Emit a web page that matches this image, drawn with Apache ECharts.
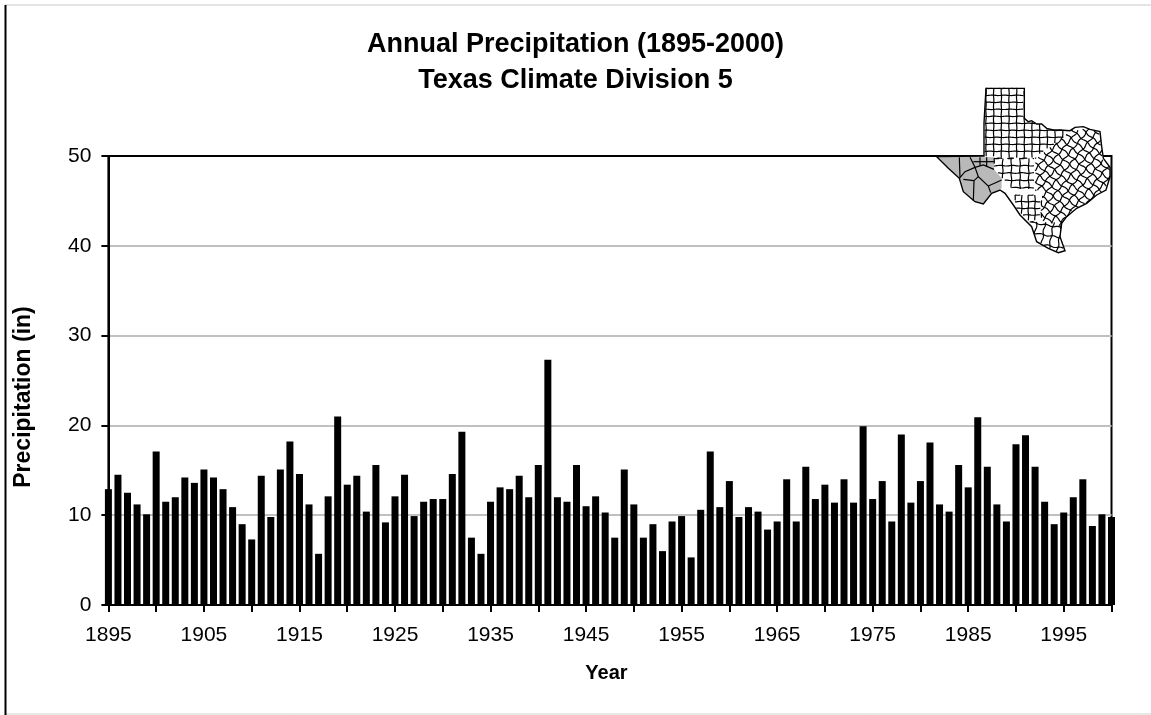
<!DOCTYPE html>
<html>
<head>
<meta charset="utf-8">
<title>Annual Precipitation (1895-2000)</title>
<script src="https://cdn.jsdelivr.net/npm/echarts@6/dist/echarts.min.js"></script>
<style>
  html, body { margin: 0; padding: 0; background: #fff; }
  #chart { width: 1151px; height: 715px; }
</style>
</head>
<body>
<div id="chart"></div>
<script>
const years = [
  "1895","1896","1897","1898","1899","1900","1901","1902","1903","1904",
  "1905","1906","1907","1908","1909","1910","1911","1912","1913","1914",
  "1915","1916","1917","1918","1919","1920","1921","1922","1923","1924",
  "1925","1926","1927","1928","1929","1930","1931","1932","1933","1934",
  "1935","1936","1937","1938","1939","1940","1941","1942","1943","1944",
  "1945","1946","1947","1948","1949","1950","1951","1952","1953","1954",
  "1955","1956","1957","1958","1959","1960","1961","1962","1963","1964",
  "1965","1966","1967","1968","1969","1970","1971","1972","1973","1974",
  "1975","1976","1977","1978","1979","1980","1981","1982","1983","1984",
  "1985","1986","1987","1988","1989","1990","1991","1992","1993","1994",
  "1995","1996","1997","1998","1999","2000"
];
const precipitation = [
  12.9,14.5,12.5,11.2,10.1,17.1,11.5,12.0,14.2,13.6,
  15.1,14.2,12.9,10.9,9.0,7.3,14.4,9.8,15.1,18.2,
  14.6,11.2,5.7,12.1,21.0,13.4,14.4,10.4,15.6,9.2,
  12.1,14.5,9.9,11.5,11.8,11.8,14.6,19.3,7.5,5.7,
  11.5,13.1,12.9,14.4,12.0,15.6,27.3,12.0,11.5,15.6,
  11.0,12.1,10.3,7.5,15.1,11.2,7.5,9.0,6.0,9.3,
  9.9,5.3,10.6,17.1,10.9,13.8,9.8,10.9,10.4,8.4,
  9.3,14.0,9.3,15.4,11.8,13.4,11.4,14.0,11.4,19.9,
  11.8,13.8,9.3,19.0,11.4,13.8,18.1,11.2,10.4,15.6,
  13.1,20.9,15.4,11.2,9.3,17.9,18.9,15.4,11.5,9.0,
  10.3,12.0,14.0,8.8,10.1,9.8
];

// locator map, points are in crop units: x = 920 + u / 3, y = 80 + v / 3
const texasOutline = [
  [198,25],[313,25],[313,115],[325,125],[335,122],[350,132],[365,132],[380,145],
  [400,150],[420,150],[450,152],[465,142],[490,140],[510,148],[540,155],[545,200],
  [550,235],[570,262],[570,290],[558,330],[530,345],[500,370],[470,385],[440,410],
  [425,430],[420,470],[435,512],[415,518],[385,505],[350,485],[335,440],[300,405],
  [280,375],[255,340],[240,330],[215,340],[190,372],[165,365],[130,335],[118,295],
  [85,265],[50,230],[192,228],[192,130]
];
const division5 = [
  [50,230],[222,232],[222,268],[245,295],[245,325],[215,340],[190,372],[165,365],
  [130,335],[118,295],[85,265]
];
const division5Lines = [
  [[118,232],[120,292]],[[150,232],[165,262],[175,290],[205,318],[212,338]],
  [[165,262],[190,255],[222,268]],[[175,290],[162,302],[160,363]],
  [[118,295],[135,275],[165,262]],[[130,298],[162,302]],[[205,318],[245,300]],
  [[180,232],[180,258]],[[200,232],[200,260]],[[160,245],[222,245]]
];
// [region, originU, originV, angle, stepU, stepV, wobble]
const countyGrids = [
  [[[192,20],[320,20],[320,120],[460,150],[380,210],[340,235],[192,235]],198,25,0,23,21,0.6],
  [[[222,235],[345,235],[345,330],[280,330],[250,300],[222,268]],222,235,0,26,22,1],
  [[[285,345],[365,345],[365,415],[330,430],[285,380]],285,345,0,20,20,0.8],
  [[[345,235],[380,210],[450,150],[545,140],[575,265],[560,335],[440,415],[420,440],[360,420],[365,345],[345,330]],400,240,40,23,21,2],
  [[[330,425],[430,425],[440,520],[340,500]],350,430,10,25,30,2]
];

function mx(u) { return 920 + u / 3; }
function my(v) { return 80 + v / 3; }
function toPoints(list) { return list.map((p) => [mx(p[0]), my(p[1])]); }

function inside(poly, x, y) {
  let hit = false;
  for (let i = 0, j = poly.length - 1; i < poly.length; j = i++) {
    const a = poly[i], b = poly[j];
    if ((a[1] > y) !== (b[1] > y) && x < ((b[0] - a[0]) * (y - a[1])) / (b[1] - a[1]) + a[0]) {
      hit = !hit;
    }
  }
  return hit;
}

function polyEl(points) {
  return {
    type: "polyline",
    silent: true,
    z: 100,
    shape: { points: points },
    style: { stroke: "#000", lineWidth: 1.2, fill: null },
  };
}

// walks the lattice lines of a county grid and keeps the runs inside the state
function countyLines() {
  const out = [];
  countyGrids.forEach((g) => {
    const region = g[0], cos = Math.cos((g[3] * Math.PI) / 180), sin = Math.sin((g[3] * Math.PI) / 180), wob = g[6];
    const ok = (u, v) => inside(region, u, v) && inside(texasOutline, u, v) && !inside(division5, u, v);
    [0, 1].forEach((dir) => {
      const step = dir === 0 ? g[4] : g[5];
      for (let k = -30; k <= 30; k++) {
        let run = [];
        for (let t = -700; t <= 700; t += 4) {
          // small wobble so the county lines do not look ruled
          const off = wob * Math.sin(t / 6 + k * 1.7);
          const a = dir === 0 ? k * step + off : t;
          const b = dir === 0 ? t : k * step + off;
          const u = g[1] + a * cos - b * sin;
          const v = g[2] + a * sin + b * cos;
          if (ok(u, v)) {
            run.push([mx(u), my(v)]);
          } else if (run.length) {
            if (run.length > 1) out.push(polyEl(run));
            run = [];
          }
        }
      }
    });
  });
  return out;
}

function texasMap() {
  const els = [
    { type: "polygon", silent: true, z: 99, shape: { points: toPoints(texasOutline) }, style: { fill: "#fff", stroke: null } },
    { type: "polygon", silent: true, z: 99, shape: { points: toPoints(division5) }, style: { fill: "#b9b9b9", stroke: null } },
  ];
  countyLines().forEach((l) => els.push(l));
  division5Lines.forEach((pl) => els.push(polyEl(toPoints(pl))));
  els.push({ type: "polygon", silent: true, z: 101, shape: { points: toPoints(texasOutline) }, style: { fill: null, stroke: "#000", lineWidth: 1.4 } });
  return els;
}

const fontName = "'Liberation Sans', Arial, sans-serif";
const chartInstance = echarts.init(document.getElementById("chart"));
chartInstance.setOption({
  animation: false,
  backgroundColor: "#fff",
  title: {
    text: "Annual Precipitation (1895-2000)\nTexas Climate Division 5",
    left: "center",
    top: 21,
    textStyle: { color: "#000", fontFamily: fontName, fontSize: 27, fontWeight: "bold", lineHeight: 36.5 },
  },
  grid: {
    show: true,
    left: 108.4,
    right: 39.5,
    top: 156,
    bottom: 110,
    borderColor: "#000",
    borderWidth: 2,
    backgroundColor: "transparent",
  },
  xAxis: {
    type: "category",
    data: years,
    boundaryGap: false,
    name: "Year",
    nameLocation: "middle",
    nameGap: 58,
    nameTextStyle: { color: "#000", fontFamily: fontName, fontSize: 20, fontWeight: "bold", padding: [0, 7, 0, 0] },
    axisLine: { lineStyle: { color: "#000", width: 2 } },
    axisTick: { interval: 4, length: 7, lineStyle: { color: "#000", width: 2 } },
    axisLabel: { interval: 9, margin: 20, color: "#000", fontFamily: fontName, fontSize: 21 },
    splitLine: { show: false },
  },
  yAxis: {
    type: "value",
    min: 0,
    max: 50,
    interval: 10,
    name: "Precipitation (in)",
    nameLocation: "middle",
    nameGap: 73,
    nameTextStyle: { color: "#000", fontFamily: fontName, fontSize: 23, fontWeight: "bold", padding: [0, 33, 0, 0] },
    axisLine: { show: true, lineStyle: { color: "#000", width: 2 } },
    axisTick: { show: true, length: 7, lineStyle: { color: "#000", width: 2 } },
    axisLabel: { margin: 17, color: "#000", fontFamily: fontName, fontSize: 21 },
    splitLine: { show: true, showMinLine: false, showMaxLine: false, lineStyle: { color: "#c0c0c0", width: 2 } },
  },
  series: [
    {
      type: "bar",
      data: precipitation,
      barWidth: 7,
      clip: false,
      itemStyle: { color: "#000" },
    },
  ],
  graphic: [
    { type: "line", silent: true, shape: { x1: 5, y1: 5, x2: 1151, y2: 5 }, style: { stroke: "#c8c8c8", lineWidth: 1 } },
    { type: "line", silent: true, shape: { x1: 5, y1: 714, x2: 1151, y2: 714 }, style: { stroke: "#d0d0d0", lineWidth: 1 } },
    { type: "line", silent: true, shape: { x1: 5.5, y1: 5, x2: 5.5, y2: 715 }, style: { stroke: "#000", lineWidth: 2 } },
  ].concat(texasMap()),
});
</script>
</body>
</html>
